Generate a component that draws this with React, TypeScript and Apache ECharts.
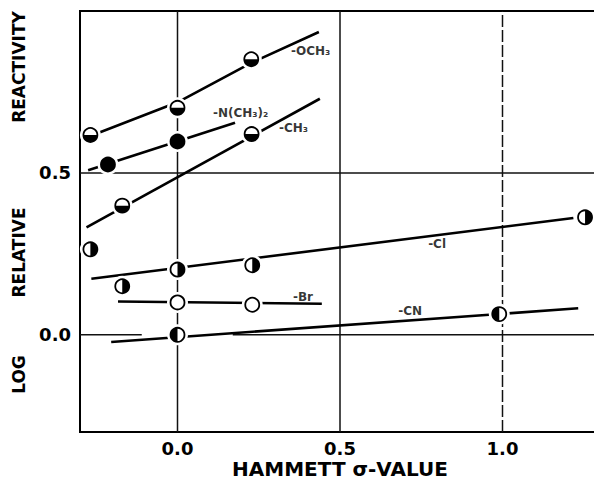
import React, { useEffect, useRef } from 'react';
import * as echarts from 'echarts';

const FONT = '"DejaVu Sans", "Liberation Sans", sans-serif';

// Axis ticks
const xTickValues = [0, 0.5, 1.0];
const xTickLabels = ['0.0', '0.5', '1.0'];
const yTickValues = [0, 0.5];
const yTickLabels = ['0.0', '0.5'];

// Grid lines
const gridXValues = [0, 0.5, 1.0];
const gridYValues = [0.5];
const zeroLineSegments = [
  [[-0.3, 0], [-0.11, 0]],
  [[0.17, 0], [1.3, 0]],
];

// Measured points (Hammett sigma, log relative reactivity)
const och3Points = [[-0.268, 0.617], [0, 0.701], [0.227, 0.851]];
const och3Fit = [[-0.268, 0.614], [0, 0.718], [0.227, 0.84], [0.435, 0.935]];

const nme2Points = [[-0.214, 0.526], [0, 0.597]];
const nme2Fit = [[-0.275, 0.508], [0.177, 0.655]];

const ch3Points = [[-0.17, 0.399], [0.228, 0.62]];
const ch3Fit = [[-0.28, 0.332], [0.438, 0.729]];

const clPoints = [[-0.268, 0.264], [-0.17, 0.15], [0, 0.2015], [0.23, 0.215], [1.254, 0.363]];
const clFit = [[-0.265, 0.173], [1.218, 0.361]];

const brPoints = [[0, 0.1], [0.23, 0.093]];
const brFit = [[-0.183, 0.103], [0.444, 0.096]];

const cnPoints = [[0, 0.0], [0.99, 0.064]];
const cnFit = [[-0.204, -0.022], [1.233, 0.082]];

// Curve labels
const curveLabels = [
  { text: '-OCH₃', x: 0.349, y: 0.878 },
  { text: '-N(CH₃)₂', x: 0.109, y: 0.685 },
  { text: '-CH₃', x: 0.312, y: 0.639 },
  { text: '-Cl', x: 0.771, y: 0.28 },
  { text: '-Br', x: 0.355, y: 0.118 },
  { text: '-CN', x: 0.679, y: 0.074 },
];

function tickFormatter(values: number[], labels: string[]) {
  return (v: number) => {
    const i = values.findIndex((t) => Math.abs(t - v) < 1e-6);
    return i >= 0 ? labels[i] : '';
  };
}

function markerSeries(points: number[][], kind: string) {
  return {
    type: 'custom',
    coordinateSystem: 'cartesian2d',
    data: points,
    z: 5,
    silent: true,
    encode: { x: 0, y: 1 },
    renderItem: (_params: any, api: any) => {
      const c = api.coord([api.value(0), api.value(1)]);
      const cx = c[0];
      const cy = c[1];
      const r = 7;
      const children: any[] = [
        { type: 'circle', shape: { cx, cy, r: 10.5 }, style: { fill: '#fff' } },
      ];
      if (kind === 'full') {
        children.push({ type: 'circle', shape: { cx, cy, r }, style: { fill: '#000' } });
      } else if (kind !== 'open') {
        let s = 0;
        let e = Math.PI;
        if (kind === 'right') { s = -Math.PI / 2; e = Math.PI / 2; }
        if (kind === 'left') { s = Math.PI / 2; e = (3 * Math.PI) / 2; }
        children.push({
          type: 'sector',
          shape: { cx, cy, r0: 0, r, startAngle: s, endAngle: e, clockwise: true },
          style: { fill: '#000' },
        });
      }
      children.push({
        type: 'circle',
        shape: { cx, cy, r },
        style: { fill: 'none', stroke: '#000', lineWidth: 1.8 },
      });
      return { type: 'group', children };
    },
  };
}

function fitSeries(data: number[][]) {
  return {
    type: 'line',
    data,
    symbol: 'none',
    silent: true,
    z: 3,
    lineStyle: { color: '#000', width: 2.6 },
  };
}

function gridSeries(data: number[][], dashed = false) {
  return {
    type: 'line',
    data,
    symbol: 'none',
    silent: true,
    z: 2,
    lineStyle: { color: '#111', width: 1.5, type: dashed ? [12, 3] : 'solid' },
  };
}

export default function App() {
  const ref = useRef<HTMLDivElement>(null);
  useEffect(() => {
    const chart = echarts.init(ref.current!, null, { renderer: 'svg' });
    const series: any[] = [];
    gridXValues.forEach((x) => {
      series.push(gridSeries([[x, -0.3], [x, 1.0]], x === 1.0));
    });
    gridYValues.forEach((y) => {
      series.push(gridSeries([[-0.3, y], [1.3, y]]));
    });
    zeroLineSegments.forEach((seg) => series.push(gridSeries(seg)));
    [och3Fit, nme2Fit, ch3Fit, clFit, brFit, cnFit].forEach((f) => series.push(fitSeries(f)));
    series.push(markerSeries(och3Points, 'bottom'));
    series.push(markerSeries(nme2Points, 'full'));
    series.push(markerSeries(ch3Points, 'bottom'));
    series.push(markerSeries(clPoints, 'right'));
    series.push(markerSeries(brPoints, 'open'));
    series.push(markerSeries(cnPoints, 'left'));
    series.push({
      type: 'scatter',
      data: curveLabels.map((l) => ({ name: l.text, value: [l.x, l.y] })),
      symbolSize: 0.1,
      silent: true,
      z: 6,
      itemStyle: { color: 'transparent' },
      label: {
        show: true,
        position: 'right',
        distance: 0,
        formatter: '{b}',
        color: '#000',
        fontSize: 12,
        fontWeight: 'bold',
        fontFamily: FONT,
      },
    });

    const option: any = {
      animation: false,
      backgroundColor: '#fff',
      grid: {
        left: 80,
        width: 520,
        top: 11,
        height: 421,
        outerBoundsMode: 'none',
        containLabel: false,
        show: true,
        borderColor: '#000',
        borderWidth: 2,
        backgroundColor: 'transparent',
      },
      xAxis: {
        type: 'value',
        min: -0.3,
        max: 1.3,
        interval: 0.1,
        axisLine: { show: false },
        axisTick: { show: false },
        splitLine: { show: false },
        axisLabel: {
          formatter: tickFormatter(xTickValues, xTickLabels),
          margin: 7,
          color: '#000',
          fontSize: 18,
          fontWeight: 'bold',
          fontFamily: FONT,
        },
      },
      yAxis: {
        type: 'value',
        min: -0.3,
        max: 1.0,
        interval: 0.1,
        axisLine: { show: false },
        axisTick: { show: false },
        splitLine: { show: false },
        axisLabel: {
          formatter: tickFormatter(yTickValues, yTickLabels),
          margin: 9,
          color: '#000',
          fontSize: 18,
          fontWeight: 'bold',
          fontFamily: FONT,
        },
      },
      graphic: [
        {
          type: 'text',
          x: 340,
          y: 469,
          style: {
            text: 'HAMMETT σ-VALUE',
            fill: '#000',
            fontSize: 20,
            fontWeight: 'bold',
            fontFamily: FONT,
            align: 'center',
            verticalAlign: 'middle',
          },
        },
        ...[
          { t: 'LOG', y: 374.5 },
          { t: 'RELATIVE', y: 252.5 },
          { t: 'REACTIVITY', y: 67 },
        ].map((w) => ({
          type: 'text',
          x: 19,
          y: w.y,
          rotation: Math.PI / 2,
          style: {
            text: w.t,
            fill: '#000',
            fontSize: 17,
            fontWeight: 'bold',
            fontFamily: FONT,
            align: 'center',
            verticalAlign: 'middle',
          },
        })),
      ],
      series,
    };
    chart.setOption(option);
    return () => chart.dispose();
  }, []);
  return (
    <div
      ref={ref}
      style={{ position: 'fixed', left: 0, top: 0, width: 594, height: 481, background: '#fff' }}
    />
  );
}
